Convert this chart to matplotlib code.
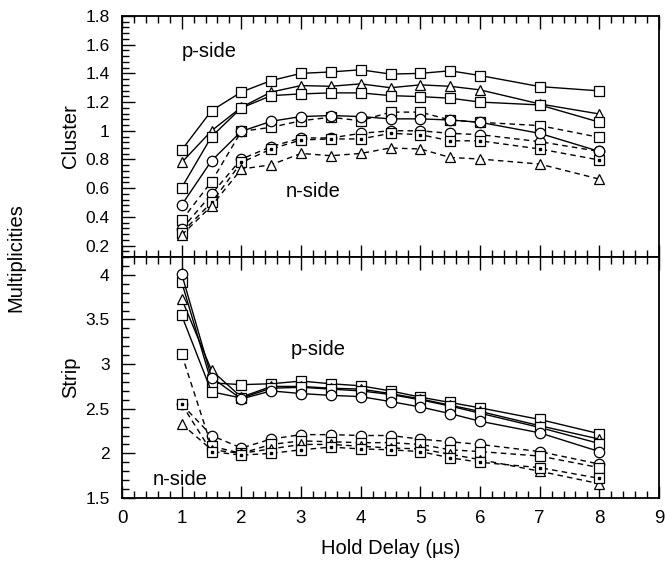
import matplotlib
matplotlib.use("Agg")
import matplotlib.pyplot as plt
from matplotlib.ticker import MultipleLocator, FuncFormatter

plt.rcParams['font.family'] = ['Liberation Sans', 'DejaVu Sans']

hold_delay = [1, 1.5, 2, 2.5, 3, 3.5, 4, 4.5, 5, 5.5, 6, 7, 8]

# Cluster multiplicities, p-side (solid)
cl_p_sqA = [0.866, 1.14, 1.27, 1.35, 1.40, 1.41, 1.425, 1.395, 1.40, 1.418, 1.385, 1.308, 1.278]
cl_p_tri = [0.779, 1.00, 1.164, 1.27, 1.315, 1.31, 1.327, 1.30, 1.32, 1.31, 1.285, 1.187, 1.117]
cl_p_sqB = [0.604, 0.959, 1.159, 1.245, 1.257, 1.264, 1.264, 1.245, 1.238, 1.227, 1.20, 1.18, 1.06]
cl_p_cir = [0.483, 0.791, 0.996, 1.066, 1.099, 1.106, 1.099, 1.083, 1.083, 1.075, 1.059, 0.982, 0.856]
# Cluster multiplicities, n-side (dashed)
cl_n_sqA = [0.376, 0.646, 0.996, 1.024, 1.07, 1.094, 1.07, 1.13, 1.13, 1.075, 1.059, 1.036, 0.954]
cl_n_cir = [0.313, 0.558, 0.803, 0.889, 0.95, 0.95, 0.982, 1.00, 1.00, 0.982, 0.973, 0.924, 0.856]
cl_n_sqB = [0.29, 0.50, 0.779, 0.873, 0.936, 0.943, 0.943, 0.982, 0.973, 0.93, 0.93, 0.873, 0.796]
cl_n_tri = [0.273, 0.476, 0.733, 0.763, 0.842, 0.826, 0.842, 0.88, 0.873, 0.814, 0.803, 0.768, 0.663]

# Strip multiplicities, p-side (solid)
st_p_sqA = [3.92, 2.79, 2.77, 2.78, 2.81, 2.78, 2.757, 2.70, 2.63, 2.57, 2.51, 2.38, 2.22]
st_p_tri = [3.73, 2.93, 2.63, 2.75, 2.75, 2.73, 2.72, 2.67, 2.61, 2.54, 2.47, 2.31, 2.16]
st_p_sqB = [3.545, 2.69, 2.62, 2.73, 2.74, 2.72, 2.70, 2.66, 2.60, 2.53, 2.45, 2.29, 2.11]
st_p_cir = [4.01, 2.85, 2.61, 2.70, 2.67, 2.65, 2.636, 2.58, 2.52, 2.445, 2.36, 2.23, 2.02]
# Strip multiplicities, n-side (dashed)
st_n_cir = [2.55, 2.20, 2.06, 2.16, 2.21, 2.21, 2.20, 2.20, 2.16, 2.13, 2.10, 2.02, 1.88]
st_n_sqA = [3.11, 2.08, 2.00, 2.10, 2.14, 2.13, 2.12, 2.12, 2.10, 2.04, 2.02, 1.97, 1.84]
st_n_tri = [2.33, 2.04, 2.00, 2.05, 2.10, 2.10, 2.08, 2.06, 2.05, 1.99, 1.93, 1.80, 1.66]
st_n_sqB = [2.55, 2.02, 1.98, 2.00, 2.04, 2.07, 2.05, 2.04, 2.02, 1.95, 1.90, 1.84, 1.72]

x_ticks = [0, 1, 2, 3, 4, 5, 6, 7, 8, 9]
cl_yticks = [0.2, 0.4, 0.6, 0.8, 1.0, 1.2, 1.4, 1.6, 1.8]
st_yticks = [1.5, 2.0, 2.5, 3.0, 3.5, 4.0]

fig = plt.figure(figsize=(6.65, 5.69), dpi=100)
ax1 = fig.add_axes([0.1835, 0.5483, 0.8075, 0.4236])
ax2 = fig.add_axes([0.1835, 0.1248, 0.8075, 0.4235])

ms = 7.2
def draw(ax, y, marker, ls, dot=False):
    m = ms + 0.6 if marker == '^' else (ms + 0.3 if marker == 'o' else ms)
    ax.plot(hold_delay, y, color='black', lw=1.0, ls=ls, marker=marker, ms=m,
            mfc='white', mec='black', mew=0.9,
            dashes=(4, 3) if ls == '--' else (None, None))
    if dot:
        ax.plot(hold_delay, y, ls='none', marker='s', ms=1.5, color='black')

# upper panel
draw(ax1, cl_n_sqA, 's', '--')
draw(ax1, cl_n_cir, 'o', '--')
draw(ax1, cl_n_sqB, 's', '--', dot=True)
draw(ax1, cl_n_tri, '^', '--')
draw(ax1, cl_p_sqA, 's', '-')
draw(ax1, cl_p_tri, '^', '-')
draw(ax1, cl_p_sqB, 's', '-')
draw(ax1, cl_p_cir, 'o', '-')

# lower panel
draw(ax2, st_n_cir, 'o', '--')
draw(ax2, st_n_sqA, 's', '--')
draw(ax2, st_n_tri, '^', '--')
draw(ax2, st_n_sqB, 's', '--', dot=True)
draw(ax2, st_p_sqA, 's', '-')
draw(ax2, st_p_tri, '^', '-')
draw(ax2, st_p_sqB, 's', '-')
draw(ax2, st_p_cir, 'o', '-')

fmt = FuncFormatter(lambda v, p: f"{v:g}")
for ax in (ax1, ax2):
    ax.set_xlim(0, 9)
    ax.set_xticks(x_ticks)
    ax.xaxis.set_minor_locator(MultipleLocator(0.2))
    ax.yaxis.set_major_formatter(fmt)
    ax.tick_params(which='both', direction='in', top=True, bottom=True, left=True, right=False,
                   labelsize=13.5, width=1.0)
    ax.tick_params(axis='y', labelsize=12.5, pad=9)
    ax.tick_params(which='major', length=9)
    ax.tick_params(which='minor', length=5)
    for s in ax.spines.values():
        s.set_linewidth(1.3)

ax1.set_ylim(0.12, 1.8)
ax1.set_yticks(cl_yticks)
ax1.yaxis.set_minor_locator(MultipleLocator(0.04))
ax1.tick_params(labelbottom=False)

ax2.set_ylim(1.5, 4.2)
ax2.set_yticks(st_yticks)
ax2.yaxis.set_minor_locator(MultipleLocator(0.1))
ax2.xaxis.set_major_formatter(fmt)
ax2.tick_params(axis='x', pad=9)

tfs = 14.5
ax1.text(1.0, 1.55, 'p-side', fontsize=tfs, va='center', ha='left')
ax1.text(2.74, 0.575, 'n-side', fontsize=tfs, va='center', ha='left')
ax2.text(2.82, 3.16, 'p-side', fontsize=tfs, va='center', ha='left')
ax2.text(0.51, 1.71, 'n-side', fontsize=tfs, va='center', ha='left')

ax1.set_ylabel('Cluster', fontsize=tfs)
ax2.set_ylabel('Strip', fontsize=tfs)
ax1.yaxis.set_label_coords(-0.078, 0.5)
ax2.yaxis.set_label_coords(-0.078, 0.5)
ax2.set_xlabel('Hold Delay (\u00b5s)', fontsize=tfs, labelpad=8)
fig.text(0.024, 0.548, 'Multiplicities', rotation=90, fontsize=tfs, va='center', ha='center')

fig.savefig('out.png', dpi=100)
